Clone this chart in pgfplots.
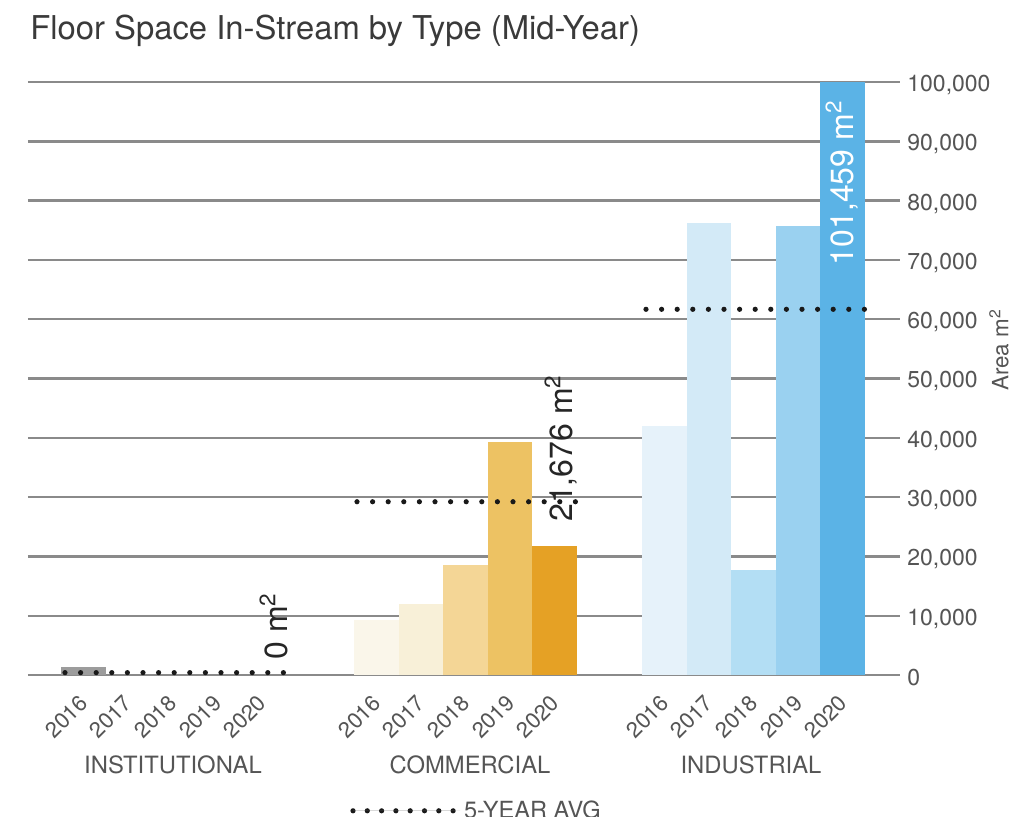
\documentclass[border=0pt]{standalone}
\usepackage{pgfplots}
\pgfplotsset{compat=1.18}
\usepackage{fontspec}
\setmainfont{TeX Gyre Heros}

\definecolor{gridgray}{HTML}{8A8A8A}
\definecolor{txtgray}{HTML}{555555}
\definecolor{titlegray}{HTML}{3A3A3A}
\definecolor{instA}{HTML}{9C9C9C}
\definecolor{comA}{HTML}{FAF6EA}
\definecolor{comB}{HTML}{F8F0D8}
\definecolor{comC}{HTML}{F4D696}
\definecolor{comD}{HTML}{EDC263}
\definecolor{comE}{HTML}{E5A125}
\definecolor{indA}{HTML}{E6F2FA}
\definecolor{indB}{HTML}{D3EAF7}
\definecolor{indC}{HTML}{B3DEF4}
\definecolor{indD}{HTML}{9AD1F0}
\definecolor{indE}{HTML}{5BB3E6}

\begin{document}
\begin{tikzpicture}
\useasboundingbox (-14pt,-70.5pt) rectangle (497.5pt,337.5pt);

% title
\node[anchor=west, inner sep=0pt, text=titlegray, font=\fontsize{16.4}{19}\selectfont]
  at (1pt,322pt) {Floor Space In-Stream by Type (Mid-Year)};

\begin{axis}[
  at={(0pt,0pt)}, anchor=south west,
  scale only axis, width=436pt, height=296.5pt,
  xmin=28, xmax=900, ymin=0, ymax=100000,
  clip mode=individual,
  axis line style={draw=none},
  major tick length=0pt,
  ymajorgrids, grid style={gridgray, line width=1.2pt},
  ytick={0,10000,20000,30000,40000,50000,60000,70000,80000,90000,100000},
  yticklabel pos=right,
  scaled y ticks=false,
  /pgf/number format/.cd, fixed, precision=0, 1000 sep={,}, assume math mode=true,
  /pgfplots/.cd,
  yticklabel style={anchor=west, inner sep=0pt, xshift=3.5pt, yshift=-1.5pt,
    text=txtgray, font=\fontsize{11.5}{13}\selectfont},
  xtick={83.3,127.9,172.5,217.1,261.7,
         376.3,420.9,465.5,510.1,554.7,
         664.3,708.9,753.5,798.1,842.7},
  xticklabels={2016,2017,2018,2019,2020,
               2016,2017,2018,2019,2020,
               2016,2017,2018,2019,2020},
  xticklabel style={rotate=45, anchor=east, inner sep=0pt, text=txtgray,
    font=\fontsize{11}{13}\selectfont, xshift=-8.3pt, yshift=-8.7pt},
  bars/.style={ybar, bar width=44.6, bar shift=0pt, draw=none, fill=#1},
  avg/.style={draw=black!90, line width=2.6pt, line cap=round,
    dash pattern=on 0pt off 7.8pt},
  legend style={draw=none, fill=none, inner sep=0pt,
    at={(axis cs:350,-22900)}, anchor=west,
    font=\fontsize{11.8}{13}\selectfont, text=txtgray},
  legend image code/.code={\draw[black!90, line width=2.6pt, line cap=round,
    dash pattern=on 0pt off 7.15pt] (0pt,0pt) -- (50.2pt,0pt);
    \path (0pt,0pt) -- (53.5pt,0pt);},
]
% INSTITUTIONAL
\addplot[bars=instA] coordinates {(83.3,1300)};
% COMMERCIAL
\addplot[bars=comA] coordinates {(376.3,9300)};
\addplot[bars=comB] coordinates {(420.9,12000)};
\addplot[bars=comC] coordinates {(465.5,18550)};
\addplot[bars=comD] coordinates {(510.1,39350)};
\addplot[bars=comE] coordinates {(554.7,21676)};
% INDUSTRIAL
\addplot[bars=indA] coordinates {(664.3,42000)};
\addplot[bars=indB] coordinates {(708.9,76200)};
\addplot[bars=indC] coordinates {(753.5,17700)};
\addplot[bars=indD] coordinates {(798.1,75770)};
\addplot[bars=indE] coordinates {(842.7,101459)};

% 5-year averages
\addplot[avg] coordinates {(65,400) (283.6,400)};
\addlegendentry{5-YEAR AVG}
\addplot[avg, forget plot] coordinates {(357,29220) (575.6,29220)};
\addplot[avg, forget plot] coordinates {(646,61670) (864.6,61670)};

% values of the 2020 bars
\node[rotate=90, anchor=west, inner sep=0pt, text=black!85,
  font=\fontsize{16}{18}\selectfont] at (axis cs:274,2530) {0 m\textsuperscript{2}};
\node[rotate=90, anchor=west, inner sep=0pt, text=black!85,
  font=\fontsize{16}{18}\selectfont] at (axis cs:561,25800) {21,676 m\textsuperscript{2}};
\node[rotate=90, anchor=east, inner sep=0pt, text=white,
  font=\fontsize{16}{18}\selectfont] at (axis cs:842,96960) {101,459 m\textsuperscript{2}};

% group names
\node[text=txtgray, font=\fontsize{11.9}{13}\selectfont] at (axis cs:173,-15170) {INSTITUTIONAL};
\node[text=txtgray, font=\fontsize{11.9}{13}\selectfont] at (axis cs:470,-15170) {COMMERCIAL};
\node[text=txtgray, font=\fontsize{11.9}{13}\selectfont] at (axis cs:751,-15170) {INDUSTRIAL};
\end{axis}

% axis title
\node[rotate=90, text=txtgray, font=\fontsize{11.2}{13}\selectfont]
  at (485.5pt,162.5pt) {Area m\textsuperscript{2}};
\end{tikzpicture}
\end{document}
